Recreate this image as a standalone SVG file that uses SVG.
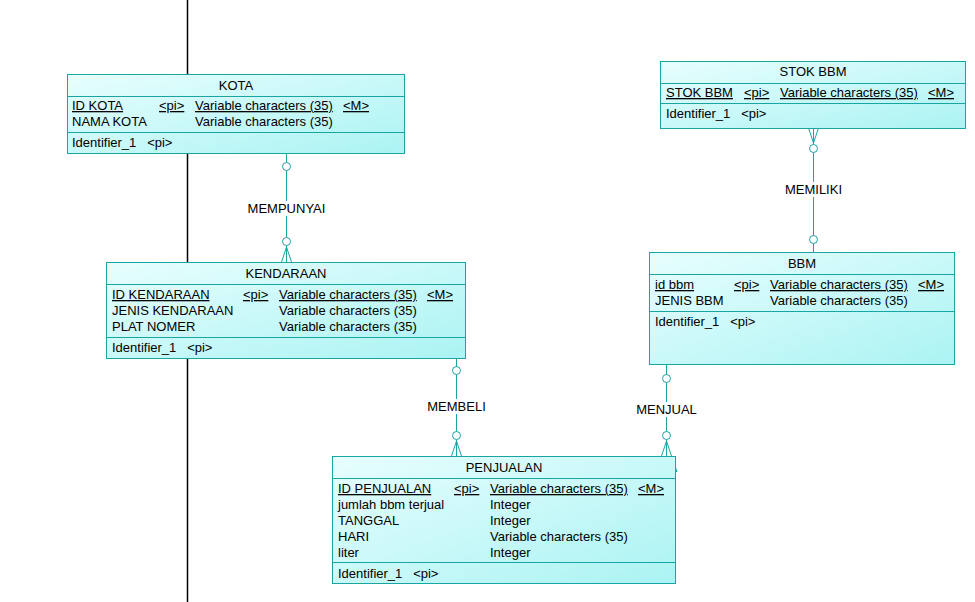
<svg xmlns="http://www.w3.org/2000/svg" width="975" height="602" viewBox="0 0 975 602">
  <defs>
    <linearGradient id="entFill" x1="0" y1="0" x2="1" y2="1">
      <stop offset="0" stop-color="#e8fefe"/>
      <stop offset="1" stop-color="#abf3f3"/>
    </linearGradient>
  </defs>
  <style>
    .box { fill: url(#entFill); stroke: #1aa5a5; stroke-width: 1; }
    .sep { stroke: #1aa5a5; stroke-width: 1; }
    text { font-family: "Liberation Sans", Arial, sans-serif; font-size: 13px; fill: #000; }
    .title { text-anchor: middle; }
    .key { text-decoration: underline; }
    .lbl { text-anchor: middle; fill: #000; }
    .conn line, .conn polyline { stroke: #1aa5a5; stroke-width: 1; fill: none; }
    .conn circle { fill: #fff; stroke: #1aa5a5; stroke-width: 1; }
    .lblbg { fill: #fff; }
  </style>

  <rect width="975" height="602" fill="#fff"/>

  <!-- vertical guide line behind the entities -->
  <line x1="187.5" y1="0" x2="187.5" y2="602" stroke="#000" stroke-width="1.5"/>

  <!-- relationships -->
  <g id="connectors" class="conn">
    <!-- MEMPUNYAI: KOTA - KENDARAAN -->
    <line x1="286.5" y1="153" x2="286.5" y2="262"/>
    <polyline points="281.5,262 286.5,247 291.5,262"/>
    <circle cx="286.5" cy="166.5" r="4"/>
    <circle cx="286.5" cy="241.5" r="4"/>
    <rect class="lblbg" x="245" y="201" width="83" height="15"/>
    <text class="lbl" x="286.5" y="213">MEMPUNYAI</text>

    <!-- MEMILIKI: STOK BBM - BBM -->
    <line x1="813.5" y1="128" x2="813.5" y2="252"/>
    <polyline points="808.5,128 813.5,143 818.5,128"/>
    <circle cx="813.5" cy="148.5" r="4"/>
    <circle cx="813.5" cy="239.5" r="4"/>
    <rect class="lblbg" x="782" y="182" width="63" height="15"/>
    <text class="lbl" x="813.5" y="194">MEMILIKI</text>

    <!-- MEMBELI: KENDARAAN - PENJUALAN -->
    <line x1="456.5" y1="358" x2="456.5" y2="456"/>
    <polyline points="451.5,456 456.5,441 461.5,456"/>
    <circle cx="456.5" cy="370.5" r="4"/>
    <circle cx="456.5" cy="435.5" r="4"/>
    <rect class="lblbg" x="423" y="399" width="67" height="15"/>
    <text class="lbl" x="456.5" y="411">MEMBELI</text>

    <!-- MENJUAL: BBM - PENJUALAN -->
    <line x1="666.5" y1="364" x2="666.5" y2="456"/>
    <polyline points="661.5,456 666.5,441 671.5,456"/>
    <circle cx="666.5" cy="378.5" r="4"/>
    <circle cx="666.5" cy="435.5" r="4"/>
    <rect class="lblbg" x="633" y="402" width="67" height="15"/>
    <text class="lbl" x="666.5" y="414">MENJUAL</text>
  </g>

  <!-- KOTA -->
  <g id="kota">
    <rect class="box" x="67.5" y="74.5" width="337" height="79"/>
    <line class="sep" x1="67.5" y1="96.5" x2="404.5" y2="96.5"/>
    <line class="sep" x1="67.5" y1="132.5" x2="404.5" y2="132.5"/>
    <text class="title" x="236" y="90">KOTA</text>
    <text class="key" x="72" y="110">ID KOTA</text>
    <text class="key" x="159" y="110">&lt;pi&gt;</text>
    <text class="key" x="195" y="110">Variable characters (35)</text>
    <text class="key" x="343" y="110">&lt;M&gt;</text>
    <text x="72" y="126">NAMA KOTA</text>
    <text x="195" y="126">Variable characters (35)</text>
    <text x="72" y="147">Identifier_1 &#160;&#160;&lt;pi&gt;</text>
  </g>

  <!-- KENDARAAN -->
  <g id="kendaraan">
    <rect class="box" x="106.5" y="262.5" width="359" height="96"/>
    <line class="sep" x1="106.5" y1="284.5" x2="465.5" y2="284.5"/>
    <line class="sep" x1="106.5" y1="337.5" x2="465.5" y2="337.5"/>
    <text class="title" x="286" y="278">KENDARAAN</text>
    <text class="key" x="112" y="299">ID KENDARAAN</text>
    <text class="key" x="243" y="299">&lt;pi&gt;</text>
    <text class="key" x="279" y="299">Variable characters (35)</text>
    <text class="key" x="427" y="299">&lt;M&gt;</text>
    <text x="112" y="315">JENIS KENDARAAN</text>
    <text x="279" y="315">Variable characters (35)</text>
    <text x="112" y="331">PLAT NOMER</text>
    <text x="279" y="331">Variable characters (35)</text>
    <text x="112" y="352">Identifier_1 &#160;&#160;&lt;pi&gt;</text>
  </g>

  <!-- STOK BBM -->
  <g id="stok-bbm">
    <rect class="box" x="660.5" y="61.5" width="305" height="67"/>
    <line class="sep" x1="660.5" y1="83.5" x2="965.5" y2="83.5"/>
    <line class="sep" x1="660.5" y1="103.5" x2="965.5" y2="103.5"/>
    <text class="title" x="813" y="76">STOK BBM</text>
    <text class="key" x="666" y="97">STOK BBM</text>
    <text class="key" x="744" y="97">&lt;pi&gt;</text>
    <text class="key" x="780" y="97">Variable characters (35)</text>
    <text class="key" x="928" y="97">&lt;M&gt;</text>
    <text x="666" y="118">Identifier_1 &#160;&#160;&lt;pi&gt;</text>
  </g>

  <!-- BBM -->
  <g id="bbm">
    <rect class="box" x="649.5" y="252.5" width="305" height="112"/>
    <line class="sep" x1="649.5" y1="274.5" x2="954.5" y2="274.5"/>
    <line class="sep" x1="649.5" y1="311.5" x2="954.5" y2="311.5"/>
    <text class="title" x="802" y="268">BBM</text>
    <text class="key" x="655" y="289">id bbm</text>
    <text class="key" x="734" y="289">&lt;pi&gt;</text>
    <text class="key" x="770" y="289">Variable characters (35)</text>
    <text class="key" x="918" y="289">&lt;M&gt;</text>
    <text x="655" y="305">JENIS BBM</text>
    <text x="770" y="305">Variable characters (35)</text>
    <text x="655" y="326">Identifier_1 &#160;&#160;&lt;pi&gt;</text>
  </g>

  <!-- PENJUALAN -->
  <g id="penjualan">
    <rect class="box" x="332.5" y="456.5" width="343" height="127"/>
    <line class="sep" x1="332.5" y1="478.5" x2="675.5" y2="478.5"/>
    <line class="sep" x1="332.5" y1="562.5" x2="675.5" y2="562.5"/>
    <polygon points="675.5,466 677.5,472 675.5,472" fill="#1aa5a5"/>
    <text class="title" x="504" y="472">PENJUALAN</text>
    <text class="key" x="338" y="493">ID PENJUALAN</text>
    <text class="key" x="454" y="493">&lt;pi&gt;</text>
    <text class="key" x="490" y="493">Variable characters (35)</text>
    <text class="key" x="638" y="493">&lt;M&gt;</text>
    <text x="338" y="509">jumlah bbm terjual</text>
    <text x="490" y="509">Integer</text>
    <text x="338" y="525">TANGGAL</text>
    <text x="490" y="525">Integer</text>
    <text x="338" y="541">HARI</text>
    <text x="490" y="541">Variable characters (35)</text>
    <text x="338" y="557">liter</text>
    <text x="490" y="557">Integer</text>
    <text x="338" y="578">Identifier_1 &#160;&#160;&lt;pi&gt;</text>
  </g>
</svg>
